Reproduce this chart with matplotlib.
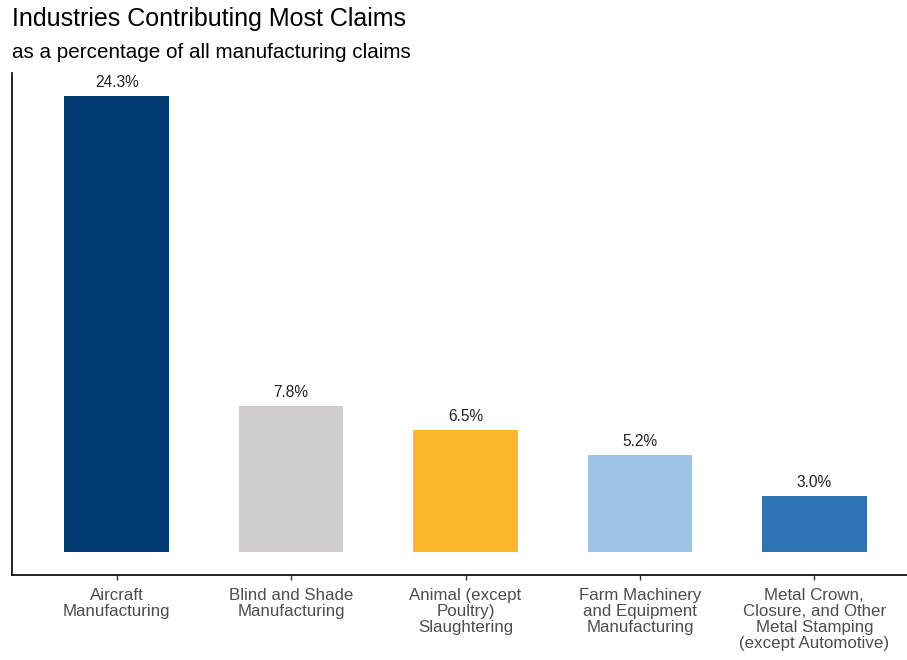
import matplotlib
matplotlib.use("Agg")
import matplotlib.pyplot as plt

categories = [
    "Aircraft\nManufacturing",
    "Blind and Shade\nManufacturing",
    "Animal (except\nPoultry)\nSlaughtering",
    "Farm Machinery\nand Equipment\nManufacturing",
    "Metal Crown,\nClosure, and Other\nMetal Stamping\n(except Automotive)",
]
shares = [24.3, 7.8, 6.5, 5.2, 3.0]
bar_colors = ["#003A70", "#CFCDCE", "#FBB829", "#9DC3E6", "#2E74B5"]

plt.rcParams["font.family"] = ["Liberation Sans", "DejaVu Sans"]

W, H = 907, 660
fig = plt.figure(figsize=(W / 100, H / 100), dpi=100)

# axes box in pixel terms (right edge runs slightly past the canvas)
left, right, top, bottom = 12, 919, 73, 575
ax = fig.add_axes([left / W, 1 - bottom / H, (right - left) / W, (bottom - top) / H])

x = list(range(1, len(categories) + 1))
ax.bar(x, shares, width=0.6, color=bar_colors, zorder=2)
for xi, v in zip(x, shares):
    ax.text(xi, v + 0.3, f"{v:.1f}%", ha="center", va="bottom",
            fontsize=11.2, color="#222222")

ymax = max(shares)
ax.set_ylim(-0.05 * ymax, 1.05 * ymax)
ax.set_xlim(0.4, len(categories) + 0.6)
ax.set_xticks(x)
ax.set_xticklabels(categories, fontsize=12.2, color="#4D4D4D", linespacing=1.08)
ax.set_yticks([])
ax.tick_params(axis="x", length=3.5, width=1, color="#333333", pad=6)
for s in ["top", "right"]:
    ax.spines[s].set_visible(False)
for s in ["left", "bottom"]:
    ax.spines[s].set_color("black")
    ax.spines[s].set_linewidth(1.2)

fig.text(12 / W, 1 - 19 / H, "Industries Contributing Most Claims",
         fontsize=18, color="black", va="center", ha="left")
fig.text(12 / W, 1 - 53 / H, "as a percentage of all manufacturing claims",
         fontsize=14.9, color="black", va="center", ha="left")

fig.savefig("out.png", dpi=100, facecolor="white")
